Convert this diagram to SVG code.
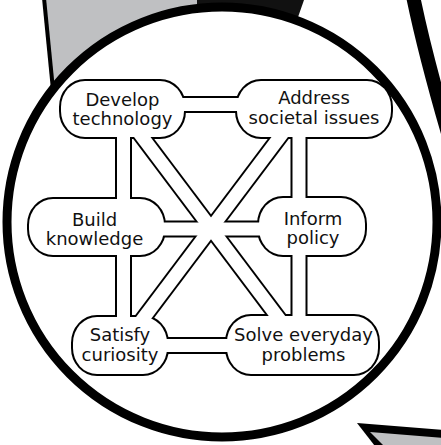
<svg xmlns="http://www.w3.org/2000/svg" width="441" height="445" viewBox="0 0 441 445">
<style>
.halo{fill:#000;stroke:#000;stroke-width:4}
.body{fill:#fff;stroke:none}
.band-o{stroke:#000;stroke-width:17;fill:none;stroke-linecap:butt}
.band-i{stroke:#fff;stroke-width:13;fill:none;stroke-linecap:butt}
text{font-family:"DejaVu Sans",Verdana,sans-serif;font-size:18px;fill:#111;text-anchor:middle}
</style>
<defs>
<rect id="r-dev" x="61" y="81" width="123" height="56" rx="24" ry="26"/>
<rect id="r-addr" x="237" y="81" width="154" height="56" rx="24" ry="26"/>
<rect id="r-build" x="29" y="199" width="135" height="56" rx="24" ry="26"/>
<rect id="r-inform" x="259" y="198" width="106" height="57" rx="24" ry="26"/>
<rect id="r-satisfy" x="73" y="317" width="94" height="57" rx="24" ry="26"/>
<rect id="r-solve" x="227" y="316" width="151" height="58" rx="24" ry="26"/>
</defs>
<g id="background">
<polygon points="44,0 200,0 200,120 56,120" fill="#bfc0c2"/>
<line x1="44" y1="-2" x2="55" y2="110" stroke="#000" stroke-width="4"/>
<polygon points="197,0 304,0 297,20 197,20" fill="#111"/>
<path d="M 413 -4 C 421 35 431 75 450 140" stroke="#000" stroke-width="14" fill="none"/>
<polygon points="357,423 445,430 445,450 378,450" fill="#000"/>
<polygon points="370,432 445,438 445,450 388,450" fill="#bfc0c2"/>
<circle cx="222" cy="222" r="215" fill="#fff" stroke="#000" stroke-width="9"/>
</g>
<g id="node-outlines">
<use href="#r-dev" class="halo"/>
<use href="#r-addr" class="halo"/>
<use href="#r-build" class="halo"/>
<use href="#r-inform" class="halo"/>
<use href="#r-satisfy" class="halo"/>
<use href="#r-solve" class="halo"/>
</g>
<g id="connectors">
<g class="band-o">
<line x1="150" y1="104.5" x2="270" y2="104.5"/>
<line x1="123.5" y1="110" x2="123.5" y2="345"/>
<line x1="299" y1="110" x2="299" y2="345"/>
<line x1="120" y1="345.5" x2="300" y2="345.5"/>
<line x1="95" y1="229" x2="313" y2="229"/>
<line x1="134" y1="126" x2="286" y2="328"/>
<line x1="288" y1="126" x2="136" y2="328"/>
</g>
<g class="band-i">
<line x1="150" y1="104.5" x2="270" y2="104.5"/>
<line x1="123.5" y1="110" x2="123.5" y2="345"/>
<line x1="299" y1="110" x2="299" y2="345"/>
<line x1="120" y1="345.5" x2="300" y2="345.5"/>
<line x1="95" y1="229" x2="313" y2="229"/>
<line x1="134" y1="126" x2="286" y2="328"/>
<line x1="288" y1="126" x2="136" y2="328"/>
</g>
</g>
<g id="node-develop">
<use href="#r-dev" class="body"/>
<text x="122.5" y="106">Develop</text>
<text x="122.5" y="125">technology</text>
</g>
<g id="node-address">
<use href="#r-addr" class="body"/>
<text x="314" y="104">Address</text>
<text x="314" y="124">societal issues</text>
</g>
<g id="node-build">
<use href="#r-build" class="body"/>
<text x="94.5" y="226">Build</text>
<text x="94.5" y="245">knowledge</text>
</g>
<g id="node-inform">
<use href="#r-inform" class="body"/>
<text x="313" y="225">Inform</text>
<text x="313" y="244">policy</text>
</g>
<g id="node-satisfy">
<use href="#r-satisfy" class="body"/>
<text x="120" y="341">Satisfy</text>
<text x="120" y="361">curiosity</text>
</g>
<g id="node-solve">
<use href="#r-solve" class="body"/>
<text x="303.5" y="341">Solve everyday</text>
<text x="303.5" y="361">problems</text>
</g>
</svg>
